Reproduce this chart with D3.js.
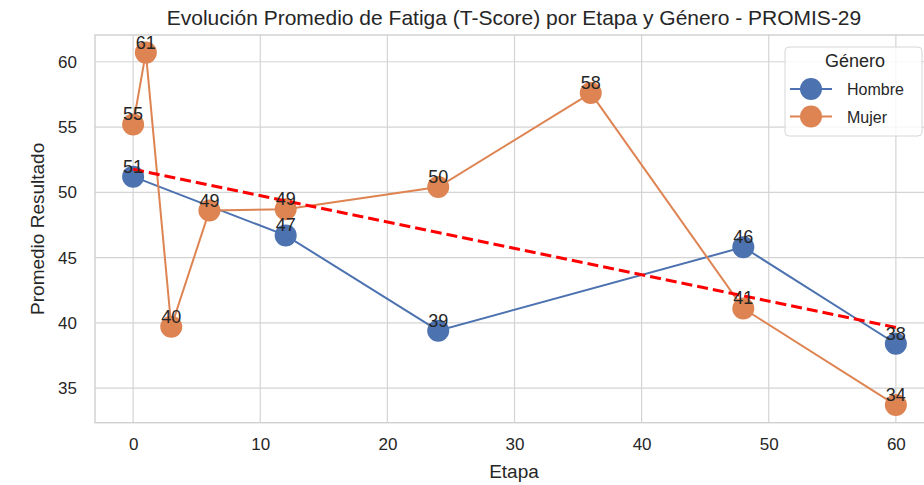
<!DOCTYPE html>
<html>
<head>
<meta charset="utf-8">
<script src="https://cdn.jsdelivr.net/npm/d3@7"></script>
<style>
  body { margin: 0; background: #fff; }
  svg text { font-family: "Liberation Sans", Arial, sans-serif; fill: #262626; }
  .grid line { stroke: #d4d4d4; stroke-width: 1.2; }
</style>
</head>
<body>
<svg id="chart" width="924" height="485"></svg>
<script>
// data
const etapasHombre = [0, 12, 24, 48, 60];
const valoresHombre = [51.2, 46.7, 39.4, 45.8, 38.4];
const etapasMujer = [0, 1, 3, 6, 12, 24, 36, 48, 60];
const valoresMujer = [55.2, 60.7, 39.7, 48.6, 48.7, 50.4, 57.6, 41.1, 33.7];
const generos = ['Hombre', 'Mujer'];
const colores = ['#4c72b0', '#dd8452'];
const xTicks = [0, 10, 20, 30, 40, 50, 60];
const yTicks = [35, 40, 45, 50, 55, 60];

const series = [
  { name: generos[0], color: colores[0], pts: etapasHombre.map((e, i) => ({ x: e, y: valoresHombre[i] })) },
  { name: generos[1], color: colores[1], pts: etapasMujer.map((e, i) => ({ x: e, y: valoresMujer[i] })) },
];

const svg = d3.select('#chart');
const plot = { left: 95, right: 934, top: 35, bottom: 422.7 };

// matplotlib style 5% margins
const allPts = series.flatMap(s => s.pts);
const xExt = d3.extent(allPts, d => d.x);
const yExt = d3.extent(allPts, d => d.y);
const xPad = (xExt[1] - xExt[0]) * 0.05;
const yPad = (yExt[1] - yExt[0]) * 0.05;

const x = d3.scaleLinear().domain([xExt[0] - xPad, xExt[1] + xPad]).range([plot.left, plot.right]);
const y = d3.scaleLinear().domain([yExt[0] - yPad, yExt[1] + yPad]).range([plot.bottom, plot.top]);

// grid
const grid = svg.append('g').attr('class', 'grid');
grid.selectAll('line.gx').data(xTicks).enter().append('line')
  .attr('x1', d => x(d)).attr('x2', d => x(d)).attr('y1', plot.top).attr('y2', plot.bottom);
grid.selectAll('line.gy').data(yTicks).enter().append('line')
  .attr('x1', plot.left).attr('x2', plot.right).attr('y1', d => y(d)).attr('y2', d => y(d));

svg.append('rect')
  .attr('x', plot.left).attr('y', plot.top)
  .attr('width', plot.right - plot.left).attr('height', plot.bottom - plot.top)
  .attr('fill', 'none').attr('stroke', '#cfcfcf').attr('stroke-width', 1.4);

// axes (no tick marks, seaborn whitegrid)
const xAxis = svg.append('g')
  .attr('transform', `translate(0,${plot.bottom})`)
  .call(d3.axisBottom(x).tickValues(xTicks).tickSize(0).tickPadding(15));
const yAxis = svg.append('g')
  .attr('transform', `translate(${plot.left},0)`)
  .call(d3.axisLeft(y).tickValues(yTicks).tickSize(0).tickPadding(18));
[xAxis, yAxis].forEach(a => {
  a.select('.domain').remove();
  a.attr('font-family', null).attr('font-size', null);
  a.selectAll('text').attr('font-size', 17).style('fill', '#262626');
});

// lines + markers
const line = d3.line().x(d => x(d.x)).y(d => y(d.y));
series.forEach(s => {
  svg.append('path').datum(s.pts)
    .attr('fill', 'none').attr('stroke', s.color).attr('stroke-width', 2).attr('d', line);
  svg.append('g').selectAll('circle').data(s.pts).enter().append('circle')
    .attr('cx', d => x(d.x)).attr('cy', d => y(d.y)).attr('r', 11).attr('fill', s.color);
});

// linear trend over all points
const mx = d3.mean(allPts, d => d.x), my = d3.mean(allPts, d => d.y);
const slope = d3.sum(allPts, d => (d.x - mx) * (d.y - my)) / d3.sum(allPts, d => (d.x - mx) ** 2);
const trend = xExt.map(v => ({ x: v, y: my + slope * (v - mx) }));
svg.append('path').datum(trend)
  .attr('fill', 'none').attr('stroke', 'red').attr('stroke-width', 3)
  .attr('stroke-dasharray', '11,5').attr('d', line);

// value labels
series.forEach(s => {
  svg.append('g').selectAll('text').data(s.pts).enter().append('text')
    .attr('x', d => x(d.x)).attr('y', d => y(d.y) - 4)
    .attr('text-anchor', 'middle').attr('font-size', 18)
    .text(d => Math.round(d.y));
});

// title and axis labels
svg.append('text').attr('x', 514).attr('y', 25).attr('text-anchor', 'middle').attr('font-size', 21)
  .text('Evolución Promedio de Fatiga (T-Score) por Etapa y Género - PROMIS-29');
svg.append('text').attr('x', 514).attr('y', 478).attr('text-anchor', 'middle').attr('font-size', 19)
  .text('Etapa');
svg.append('text').attr('transform', `translate(44,${(plot.top + plot.bottom) / 2}) rotate(-90)`)
  .attr('text-anchor', 'middle').attr('font-size', 19).text('Promedio Resultado');

// legend
const lg = svg.append('g').attr('transform', 'translate(785,47)');
lg.append('rect').attr('width', 137).attr('height', 89).attr('rx', 4)
  .attr('fill', 'white').attr('fill-opacity', 0.8).attr('stroke', '#d6d6d6');
lg.append('text').attr('x', 70).attr('y', 20).attr('text-anchor', 'middle').attr('font-size', 18).text('Género');
series.forEach((s, i) => {
  const row = lg.append('g').attr('transform', `translate(0,${42 + i * 27.5})`);
  row.append('line').attr('x1', 5).attr('x2', 47).attr('stroke', s.color).attr('stroke-width', 2);
  row.append('circle').attr('cx', 26).attr('r', 11).attr('fill', s.color);
  row.append('text').attr('x', 62).attr('y', 6).attr('font-size', 16).text(s.name);
});
</script>
</body>
</html>
